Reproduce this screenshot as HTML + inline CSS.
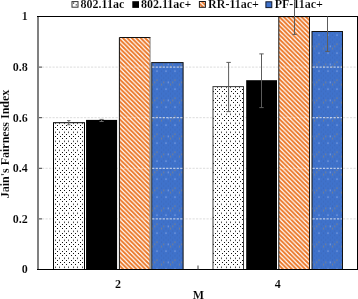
<!DOCTYPE html>
<html><head><meta charset="utf-8"><title>Jain's Fairness Index</title>
<style>
html,body{margin:0;padding:0;background:#fff;}
svg{display:block}
text{font-family:"Liberation Serif","Times New Roman",serif;font-weight:bold;font-size:12px;fill:#000;stroke:#fff;stroke-width:0.12px}
</style></head><body>
<svg width="358" height="299" viewBox="0 0 358 299">
<defs>
<pattern id="pdot" width="9" height="9" patternUnits="userSpaceOnUse" x="1" y="1">
<rect width="9" height="9" fill="#fff"/>
<rect x="0" y="0" width="1" height="1" fill="#111"/><rect x="5" y="0" width="1" height="1" fill="#111"/><rect x="2" y="2" width="1" height="1" fill="#111"/><rect x="7" y="2" width="1" height="1" fill="#111"/><rect x="0" y="4.5" width="1" height="1.6" fill="#555"/><rect x="4" y="4.5" width="1" height="1.6" fill="#555"/><rect x="2" y="7" width="1" height="1" fill="#111"/><rect x="7" y="7" width="1" height="1" fill="#111"/>
</pattern>
<pattern id="porg" width="4.44" height="4.44" patternUnits="userSpaceOnUse" x="0.5" y="0">
<rect width="4.44" height="4.44" fill="#fff"/>
<path d="M-1,-1 L5.44,5.44 M-1,3.44 L1,5.44 M3.44,-1 L5.44,1" stroke="#EB7626" stroke-width="1.9" fill="none"/>
</pattern>
<pattern id="pblu" width="18" height="18" patternUnits="userSpaceOnUse" x="1" y="0.6">
<rect width="18" height="18" fill="#3f72cb"/>
<rect x="15.95" y="11.45" width="1.1" height="1.1" fill="#a88a58" fill-opacity="0.8"/><rect x="11.45" y="6.95" width="1.1" height="1.1" fill="#a88a58" fill-opacity="0.8"/><rect x="9.20" y="9.20" width="1.1" height="1.1" fill="#a88a58" fill-opacity="0.8"/><rect x="6.95" y="11.45" width="1.1" height="1.1" fill="#a88a58" fill-opacity="0.8"/><rect x="0.20" y="9.20" width="1.1" height="1.1" fill="#a88a58" fill-opacity="0.8"/><rect x="4.70" y="9.20" width="1.1" height="1.1" fill="#b4c6f0" fill-opacity="0.8"/><rect x="11.45" y="15.95" width="1.1" height="1.1" fill="#b4c6f0" fill-opacity="0.8"/><rect x="2.45" y="15.95" width="1.1" height="1.1" fill="#b4c6f0" fill-opacity="0.8"/><rect x="9.20" y="13.70" width="1.1" height="1.1" fill="#3a5ca6" fill-opacity="0.55"/><rect x="0.20" y="0.20" width="1.1" height="1.1" fill="#3a5ca6" fill-opacity="0.55"/><rect x="4.70" y="4.70" width="1.1" height="1.1" fill="#3a5ca6" fill-opacity="0.55"/><rect x="6.95" y="6.95" width="1.1" height="1.1" fill="#3a5ca6" fill-opacity="0.55"/><rect x="4.70" y="0.20" width="1.1" height="1.1" fill="#3a5ca6" fill-opacity="0.55"/><rect x="2.45" y="2.45" width="1.1" height="1.1" fill="#3a5ca6" fill-opacity="0.55"/><rect x="0.20" y="4.70" width="1.1" height="1.1" fill="#3a5ca6" fill-opacity="0.55"/><rect x="6.95" y="2.45" width="1.1" height="1.1" fill="#3a5ca6" fill-opacity="0.55"/><rect x="15.95" y="2.45" width="1.1" height="1.1" fill="#3a5ca6" fill-opacity="0.55"/><rect x="2.45" y="6.95" width="1.1" height="1.1" fill="#3a5ca6" fill-opacity="0.55"/><rect x="11.45" y="11.45" width="1.1" height="1.1" fill="#3a5ca6" fill-opacity="0.55"/><rect x="6.95" y="15.95" width="1.1" height="1.1" fill="#3a5ca6" fill-opacity="0.55"/><rect x="15.95" y="15.95" width="1.1" height="1.1" fill="#3a5ca6" fill-opacity="0.55"/><rect x="2.45" y="11.45" width="1.1" height="1.1" fill="#3a5ca6" fill-opacity="0.55"/><rect x="0.20" y="13.70" width="1.1" height="1.1" fill="#3a5ca6" fill-opacity="0.55"/><rect x="9.20" y="4.70" width="1.1" height="1.1" fill="#3a5ca6" fill-opacity="0.55"/><rect x="9.20" y="0.20" width="1.1" height="1.1" fill="#3a5ca6" fill-opacity="0.55"/><rect x="13.70" y="4.70" width="1.1" height="1.1" fill="#3a5ca6" fill-opacity="0.55"/><rect x="4.70" y="13.70" width="1.1" height="1.1" fill="#3a5ca6" fill-opacity="0.55"/><rect x="13.70" y="0.20" width="1.1" height="1.1" fill="#3a5ca6" fill-opacity="0.55"/><rect x="13.70" y="13.70" width="1.1" height="1.1" fill="#3a5ca6" fill-opacity="0.55"/><rect x="11.45" y="2.45" width="1.1" height="1.1" fill="#3a5ca6" fill-opacity="0.55"/><rect x="15.95" y="6.95" width="1.1" height="1.1" fill="#3a5ca6" fill-opacity="0.55"/><rect x="13.70" y="9.20" width="1.1" height="1.1" fill="#3a5ca6" fill-opacity="0.55"/>
</pattern>
</defs>
<rect width="358" height="299" fill="#fff"/>

<line x1="42" x2="357.5" y1="218.90" y2="218.90" stroke="#dcdcdc" stroke-width="1" stroke-dasharray="2.2 1.3"/>
<line x1="42" x2="357.5" y1="168.30" y2="168.30" stroke="#dcdcdc" stroke-width="1" stroke-dasharray="2.2 1.3"/>
<line x1="42" x2="357.5" y1="117.70" y2="117.70" stroke="#dcdcdc" stroke-width="1" stroke-dasharray="2.2 1.3"/>
<line x1="42" x2="357.5" y1="67.10" y2="67.10" stroke="#dcdcdc" stroke-width="1" stroke-dasharray="2.2 1.3"/>
<rect x="53.50" y="122.70" width="31.00" height="146.80" fill="url(#pdot)" stroke="#000" stroke-width="1"/>
<rect x="86.05" y="119.90" width="31.05" height="149.60" fill="#000"/>
<rect x="119.40" y="37.50" width="30.70" height="232.00" fill="url(#porg)"/>
<path d="M119.40,269.5 V37.50 H150.50" fill="none" stroke="#111" stroke-width="1"/>
<path d="M150.10,37.50 V269.5" fill="none" stroke="#808080" stroke-width="0.9"/>
<rect x="151.70" y="62.60" width="31.40" height="206.90" fill="url(#pblu)" stroke="#111" stroke-width="1"/>
<rect x="213.00" y="86.60" width="30.50" height="182.90" fill="url(#pdot)" stroke="#3a3a3a" stroke-width="1"/>
<rect x="246.20" y="80.20" width="30.80" height="189.30" fill="#000"/>
<rect x="278.80" y="16.60" width="30.70" height="252.90" fill="url(#porg)" stroke="#1a1a1a" stroke-width="1"/>
<rect x="312.00" y="31.50" width="30.50" height="238.00" fill="url(#pblu)" stroke="#111" stroke-width="1"/>
<rect x="149.7" y="63" width="1.6" height="206" fill="#9a9a9a"/>
<line x1="119.90" x2="149.60" y1="218.90" y2="218.90" stroke="#fff" stroke-opacity="0.4" stroke-width="1" stroke-dasharray="2.2 1.3"/>
<line x1="152.20" x2="182.60" y1="218.90" y2="218.90" stroke="#f2f2f2" stroke-opacity="0.85" stroke-width="1" stroke-dasharray="2.2 1.3"/>
<line x1="279.30" x2="309.00" y1="218.90" y2="218.90" stroke="#fff" stroke-opacity="0.4" stroke-width="1" stroke-dasharray="2.2 1.3"/>
<line x1="312.50" x2="342.00" y1="218.90" y2="218.90" stroke="#f2f2f2" stroke-opacity="0.85" stroke-width="1" stroke-dasharray="2.2 1.3"/>
<line x1="119.90" x2="149.60" y1="168.30" y2="168.30" stroke="#fff" stroke-opacity="0.4" stroke-width="1" stroke-dasharray="2.2 1.3"/>
<line x1="152.20" x2="182.60" y1="168.30" y2="168.30" stroke="#f2f2f2" stroke-opacity="0.85" stroke-width="1" stroke-dasharray="2.2 1.3"/>
<line x1="279.30" x2="309.00" y1="168.30" y2="168.30" stroke="#fff" stroke-opacity="0.4" stroke-width="1" stroke-dasharray="2.2 1.3"/>
<line x1="312.50" x2="342.00" y1="168.30" y2="168.30" stroke="#f2f2f2" stroke-opacity="0.85" stroke-width="1" stroke-dasharray="2.2 1.3"/>
<line x1="119.90" x2="149.60" y1="117.70" y2="117.70" stroke="#fff" stroke-opacity="0.4" stroke-width="1" stroke-dasharray="2.2 1.3"/>
<line x1="152.20" x2="182.60" y1="117.70" y2="117.70" stroke="#f2f2f2" stroke-opacity="0.85" stroke-width="1" stroke-dasharray="2.2 1.3"/>
<line x1="279.30" x2="309.00" y1="117.70" y2="117.70" stroke="#fff" stroke-opacity="0.4" stroke-width="1" stroke-dasharray="2.2 1.3"/>
<line x1="312.50" x2="342.00" y1="117.70" y2="117.70" stroke="#f2f2f2" stroke-opacity="0.85" stroke-width="1" stroke-dasharray="2.2 1.3"/>
<line x1="119.90" x2="149.60" y1="67.10" y2="67.10" stroke="#fff" stroke-opacity="0.4" stroke-width="1" stroke-dasharray="2.2 1.3"/>
<line x1="152.20" x2="182.60" y1="67.10" y2="67.10" stroke="#f2f2f2" stroke-opacity="0.85" stroke-width="1" stroke-dasharray="2.2 1.3"/>
<line x1="279.30" x2="309.00" y1="67.10" y2="67.10" stroke="#fff" stroke-opacity="0.4" stroke-width="1" stroke-dasharray="2.2 1.3"/>
<line x1="312.50" x2="342.00" y1="67.10" y2="67.10" stroke="#f2f2f2" stroke-opacity="0.85" stroke-width="1" stroke-dasharray="2.2 1.3"/>
<line x1="38" x2="38" y1="16.5" y2="270.0" stroke="#808080" stroke-width="2"/>
<line x1="37" x2="358" y1="16.5" y2="16.5" stroke="#000" stroke-width="1"/>
<line x1="37" x2="358" y1="269.5" y2="269.5" stroke="#000" stroke-width="1.2"/>
<line x1="357.5" x2="357.5" y1="16.5" y2="269.5" stroke="#000" stroke-width="1"/>
<line x1="39" x2="42" y1="218.90" y2="218.90" stroke="#404040" stroke-width="1"/>
<line x1="39" x2="42" y1="168.30" y2="168.30" stroke="#404040" stroke-width="1"/>
<line x1="39" x2="42" y1="117.70" y2="117.70" stroke="#404040" stroke-width="1"/>
<line x1="39" x2="42" y1="67.10" y2="67.10" stroke="#404040" stroke-width="1"/>
<line x1="198" x2="198" y1="265.5" y2="269.5" stroke="#404040" stroke-width="1"/>
<path d="M68.8,120.60 V124.80 M67.1,120.60 h3.4 M67.1,124.80 h3.4" stroke="#707070" stroke-width="1" fill="none"/>
<path d="M101.6,119.40 V121.50 M99.5,119.40 h4.2 M99.5,121.50 h4.2" stroke="#6a6a6a" stroke-width="1" fill="none"/>
<path d="M228.6,62.40 V111.60 M226.4,62.40 h4.4 M226.4,111.60 h4.4" stroke="#5c5c5c" stroke-width="1" fill="none"/>
<path d="M261.5,53.90 V107.60 M259.3,53.90 h4.4 M259.3,107.60 h4.4" stroke="#5c5c5c" stroke-width="1" fill="none"/>
<path d="M294.5,-1.00 V34.40 M292.3,-1.00 h4.4 M292.3,34.40 h4.4" stroke="#5c5c5c" stroke-width="1" fill="none"/>
<path d="M327.5,16.50 V51.40 M325.3,51.40 h4.4" stroke="#5c5c5c" stroke-width="1" fill="none"/>
<text x="27.8" y="273.30" text-anchor="end">0</text>
<text x="27.8" y="222.70" text-anchor="end">0.2</text>
<text x="27.8" y="172.10" text-anchor="end">0.4</text>
<text x="27.8" y="121.50" text-anchor="end">0.6</text>
<text x="27.8" y="70.90" text-anchor="end">0.8</text>
<text x="27.8" y="20.30" text-anchor="end">1</text>
<text x="118" y="287.8" text-anchor="middle">2</text>
<text x="277.7" y="287.8" text-anchor="middle">4</text>
<text x="198.4" y="299" text-anchor="middle">M</text>
<text transform="translate(9.4,144) rotate(-90)" text-anchor="middle">Jain's Fairness Index</text>
<rect x="72" y="1.6" width="6" height="5.6" fill="#fff" stroke="#333" stroke-width="1"/><rect x="73" y="2.5" width="1.2" height="1.2" fill="#222"/><rect x="75.6" y="4.4" width="1.4" height="1" fill="#333"/>
<text x="80.6" y="8">802.11ac</text>
<rect x="132.3" y="1.2" width="6.7" height="6.7" fill="#000"/>
<text x="140.9" y="8">802.11ac+</text>
<rect x="199.4" y="1.5" width="6" height="5.8" fill="url(#porg)" stroke="#1a1a1a" stroke-width="1"/>
<text x="208.1" y="8">RR-11ac+</text>
<rect x="265.9" y="1.8" width="5.9" height="5.8" fill="#3f72cb" stroke="#10182c" stroke-width="1"/>
<text x="274.7" y="8">PF-11ac+</text>
</svg></body></html>
